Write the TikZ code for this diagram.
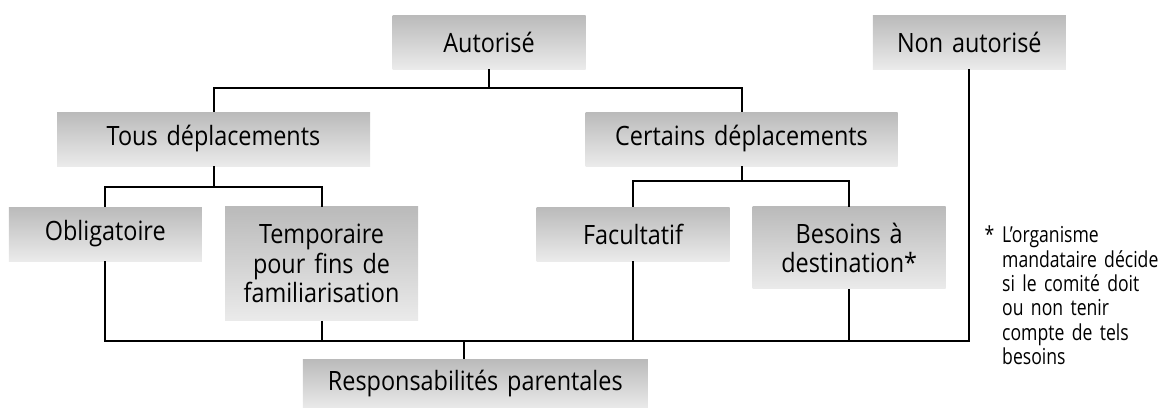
\documentclass[tikz,border=0pt]{standalone}
\usepackage{fontspec}
\setmainfont{Open Sans}
\newfontfamily\boxfont[FakeStretch=0.88]{Open Sans}
\newfontfamily\notefont[FakeStretch=0.8]{Open Sans}
\begin{document}
\begin{tikzpicture}[x=1pt,y=-1pt,
    boite/.style={top color=\BOXTOP,bottom color=\BOXBOTTOM,draw=none,align=center,
      inner sep=0pt,text width=180pt,minimum width=193pt,minimum height=54pt,
      font=\boxfont\fontsize{26.6}{29.5}\selectfont},
    lien/.style={line width=2pt}]

\def\BOXTOP{black!27}
\def\BOXBOTTOM{black!8}
	\useasboundingbox (0,0) rectangle (1159,407);

	% boites
	\node[boite] (autorise) at (489,42) {Autorisé};
	\node[boite] (nonaut) at (969.3,42) {Non autorisé};
	\node[boite,text width=300pt,minimum width=313pt] (tous) at (213.5,139) {Tous déplacements};
	\node[boite,text width=300pt,minimum width=312pt] (certains) at (741.5,139) {Certains déplacements};
	\node[boite] (oblig) at (105.3,234) {Obligatoire};
	\node[boite,minimum height=114pt] (tempo) at (321.5,263.7) {Temporaire\\pour fins de\\familiarisation};
	\node[boite] (facult) at (633,234) {Facultatif};
	\node[boite,minimum height=82pt] (besoins) at (849.2,247.7) {Besoins à\\destination*};
	\node[boite,text width=330pt,minimum width=345pt,minimum height=50pt] (resp) at (475.3,384) {Responsabilités parentales};

	% note
	\node[anchor=north west,align=left,text width=165pt,inner sep=0pt,
	  font=\notefont\fontsize{22}{24.3}\selectfont] (note) at (1002,226)
	  {\llap{*\hspace{8pt}}L’organisme\\mandataire décide\\si le comité doit\\ou non tenir\\compte de tels\\besoins};

	% liens
	\coordinate (jaut) at (489,88);
	\coordinate (jtous) at (213.5,186.7);
	\coordinate (jcert) at (741.5,181);
	\coordinate (jbas) at (464,341);
	\draw[lien] (autorise.south) -- (jaut);
	\draw[lien] (tous.north) |- (jaut) -| (certains.north);
	\draw[lien] (tous.south) -- (jtous);
	\draw[lien] (oblig.north) |- (jtous) -| (tempo.north);
	\draw[lien] (certains.south) -- (jcert);
	\draw[lien] (facult.north) |- (jcert) -| (besoins.north);
	\draw[lien] (oblig.south) |- (jbas) -| (besoins.south);
	\draw[lien] (tempo.south) -- (tempo.south |- jbas);
	\draw[lien] (facult.south) -- (facult.south |- jbas);
	\draw[lien] (nonaut.south) |- (besoins.south |- jbas);
	\draw[lien] (jbas) -- (jbas |- resp.north);

\end{tikzpicture}
\end{document}
